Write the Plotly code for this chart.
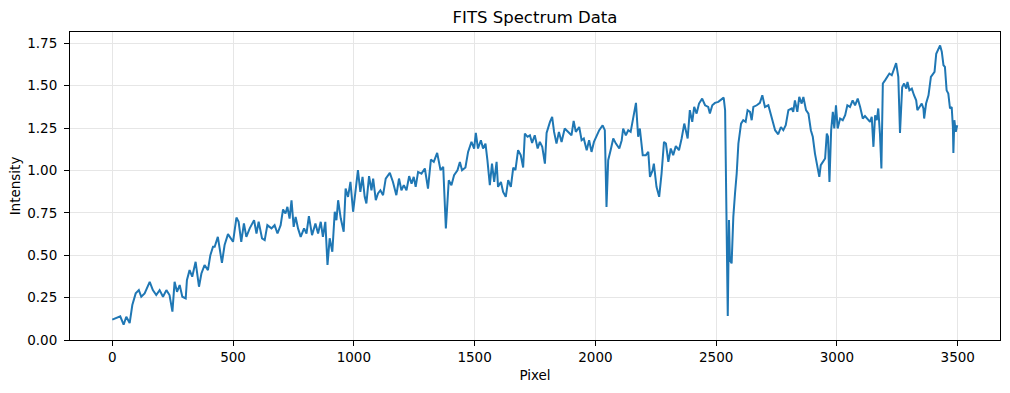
import plotly.graph_objects as go

# Pixel positions and intensities
pixel = [
    0, 17, 33, 47, 58, 72, 83, 97, 110, 120, 134, 155, 168, 182, 196, 210, 224, 237, 249, 258,
    268, 279, 290, 304, 309, 320, 331, 345, 359, 369, 382, 396, 406, 417,
    424, 437, 444, 454, 465, 479, 500, 514, 523, 534, 545, 555, 569, 587, 597, 606, 620, 631, 642, 659,
    672, 684, 697, 707, 717, 725, 734, 742, 751, 759, 769, 780, 794, 804, 814, 827, 841, 852, 863, 872,
    882, 891,
    900, 911, 921, 928, 935, 946, 958, 966, 976, 986, 997, 1007, 1017, 1027, 1036, 1045, 1052, 1063,
    1073, 1080, 1091, 1100, 1110, 1121, 1132, 1149, 1162, 1176, 1187, 1197, 1207, 1218, 1229, 1239,
    1248, 1256, 1266, 1280, 1294, 1307, 1319, 1331, 1345, 1359, 1370, 1381,
    1393, 1404, 1415, 1429, 1439, 1448, 1462, 1473, 1487, 1498, 1505, 1514, 1526, 1535, 1545, 1553,
    1563, 1572, 1581, 1591, 1597, 1609, 1618, 1629, 1639, 1650, 1660, 1669, 1680, 1691, 1701, 1708,
    1719, 1729, 1738, 1749, 1761, 1770, 1780, 1791, 1798, 1812, 1821, 1829, 1839, 1849, 1860,
    1873, 1887, 1901, 1910, 1919, 1933, 1943, 1952, 1964, 1974, 1984, 1994, 2005, 2016, 2030, 2039,
    2046, 2053, 2063, 2074, 2085, 2099, 2109, 2115, 2126, 2136, 2146, 2157, 2168, 2177, 2184, 2196,
    2209, 2219, 2226, 2237, 2242, 2253, 2264, 2274, 2284, 2292, 2302, 2312, 2322, 2333,
    2346, 2357, 2368, 2382, 2391, 2401, 2409, 2419, 2429, 2442, 2454, 2467, 2474, 2484, 2495, 2509,
    2523, 2531, 2537, 2541, 2543, 2548, 2553, 2557, 2564, 2571, 2578, 2585, 2592, 2603, 2612, 2622,
    2630, 2640, 2647, 2654, 2668, 2681, 2691, 2702, 2716, 2730, 2744, 2757, 2768, 2778, 2788, 2799, 2813,
    2819, 2826, 2836, 2844, 2854, 2861, 2872, 2882, 2892, 2900, 2909, 2919, 2927, 2933, 2941, 2951,
    2958, 2963, 2969, 2976, 2983, 2989, 2996, 3003, 3013, 3024, 3034, 3043, 3054, 3065, 3075, 3086,
    3096, 3107, 3116, 3126, 3137, 3144, 3151, 3158, 3165, 3171, 3178, 3184, 3190, 3199, 3209, 3217,
    3227, 3236, 3245, 3254, 3261, 3270,
    3278, 3287, 3292, 3300, 3310, 3319, 3328, 3333, 3341, 3351, 3358, 3361, 3369, 3379, 3389, 3397,
    3404, 3411, 3420, 3427, 3434, 3441, 3447, 3454, 3461, 3468, 3475, 3480, 3482, 3486, 3492, 3498,
]

intensity = [
    0.12, 0.13, 0.14, 0.09, 0.137, 0.10, 0.206, 0.275, 0.294, 0.255, 0.275, 0.343, 0.294, 0.265, 0.294,
    0.255, 0.294, 0.265, 0.167, 0.343, 0.284, 0.324, 0.255, 0.245, 0.353, 0.412, 0.373, 0.461, 0.314,
    0.392, 0.442, 0.412, 0.50, 0.55,
    0.55, 0.608, 0.55, 0.455, 0.56, 0.624, 0.579, 0.722, 0.697, 0.579, 0.687, 0.608, 0.658, 0.707, 0.628,
    0.697, 0.599, 0.589, 0.677, 0.658, 0.677, 0.628, 0.677, 0.77, 0.746, 0.785, 0.716, 0.824, 0.667,
    0.726, 0.658, 0.608, 0.658, 0.628, 0.73, 0.618, 0.687, 0.628, 0.697, 0.608, 0.697, 0.442,
    0.60, 0.52, 0.756, 0.706, 0.824, 0.716, 0.638, 0.893, 0.844, 0.932, 0.756, 0.873, 1.001, 0.873,
    0.962, 0.844, 0.805, 0.966, 0.883, 0.952, 0.824, 0.864, 0.883, 0.854, 0.952, 0.985, 0.932, 0.854,
    0.952, 0.883, 0.913, 0.883, 0.966, 0.922, 0.962, 0.903, 0.991, 0.981, 1.011, 0.893, 1.064, 1.05,
    1.103, 1.001, 1.021, 0.658,
    0.942, 0.913, 0.972, 1.001, 1.05, 1.001, 1.017, 1.109, 1.168, 1.129, 1.221, 1.129, 1.178, 1.129,
    1.158, 1.06, 0.913, 1.04, 0.932, 1.05, 0.903, 0.932, 0.873, 0.844, 0.942, 0.903, 1.017, 1.001,
    1.119, 1.09, 1.017, 1.217, 1.198, 1.207, 1.162, 1.207, 1.129, 1.168, 1.139, 1.04, 1.221, 1.286,
    1.315, 1.227, 1.158, 1.227, 1.168,
    1.247, 1.227, 1.207, 1.292, 1.227, 1.256, 1.178, 1.188, 1.119, 1.178, 1.109, 1.168, 1.207, 1.237,
    1.266, 1.237, 0.785, 1.06, 1.119, 1.188, 1.158, 1.129, 1.178, 1.247, 1.207, 1.237, 1.227, 1.315,
    1.398, 1.198, 1.247, 1.09, 1.09, 1.109, 0.962, 1.001, 1.04, 0.903, 0.844, 0.982, 1.168, 1.158,
    1.05, 1.129, 1.09, 1.143,
    1.119, 1.188, 1.276, 1.188, 1.355, 1.286, 1.374, 1.335, 1.394, 1.423, 1.384, 1.374, 1.335, 1.384,
    1.398, 1.404, 1.423, 1.429, 1.355, 0.864, 0.471, 0.141, 0.707, 0.471, 0.452, 0.726, 0.864, 0.982,
    1.158, 1.276, 1.296, 1.286, 1.355, 1.345, 1.296, 1.374, 1.384, 1.398, 1.443, 1.374, 1.384, 1.315,
    1.237, 1.213, 1.256, 1.237, 1.266, 1.355, 1.365,
    1.345, 1.413, 1.345, 1.433, 1.394, 1.433, 1.355, 1.335, 1.237, 1.198, 1.099, 1.031, 0.962, 1.031,
    1.05, 1.07, 1.217, 1.198, 0.932, 1.237, 1.345, 1.247, 1.384, 1.247, 1.306, 1.296, 1.325, 1.384,
    1.374, 1.413, 1.384, 1.423, 1.374, 1.306, 1.32, 1.306, 1.286, 1.316, 1.139, 1.325, 1.296, 1.365,
    1.217, 1.011, 1.512, 1.531, 1.551, 1.571, 1.561, 1.60, 1.633, 1.551, 1.221, 1.49,
    1.512, 1.482, 1.522, 1.472, 1.482, 1.443, 1.413, 1.355, 1.374, 1.394, 1.365, 1.306, 1.394, 1.443,
    1.551, 1.571, 1.581, 1.688, 1.718, 1.737, 1.70, 1.62, 1.61, 1.472, 1.453, 1.365, 1.374, 1.256,
    1.103, 1.296, 1.227, 1.266,
]

assert len(pixel) == len(intensity)

x_ticks = [0, 500, 1000, 1500, 2000, 2500, 3000, 3500]
y_ticks = [0.0, 0.25, 0.5, 0.75, 1.0, 1.25, 1.5, 1.75]

FONT = "DejaVu Sans"

fig = go.Figure()
fig.add_trace(go.Scatter(
    x=pixel, y=intensity, mode="lines",
    line=dict(color="#1f77b4", width=2),
    hoverinfo="skip",
))

axis_common = dict(
    showline=True, linecolor="black", linewidth=1.1, mirror=True,
    ticks="outside", ticklen=5, tickwidth=1.1, tickcolor="black",
    showgrid=True, gridcolor="#e6e6e6", gridwidth=1,
    zeroline=False,
    tickfont=dict(family=FONT, size=13.5, color="black"),
)

fig.update_layout(
    width=1010, height=393,
    margin=dict(l=70, r=10, t=32, b=53),
    plot_bgcolor="white", paper_bgcolor="white",
    font=dict(family=FONT, color="black"),
    showlegend=False,
    title=dict(
        text="FITS Spectrum Data",
        font=dict(family=FONT, size=16.5, color="black"),
        x=0.5, xref="paper", xanchor="center",
        y=1, yref="paper", yanchor="bottom",
        pad=dict(b=9),
    ),
    xaxis=dict(
        range=[-175, 3675],
        tickvals=x_ticks,
        ticktext=[str(v) for v in x_ticks],
        title=dict(text="Pixel", font=dict(family=FONT, size=13.5, color="black"), standoff=6),
        automargin=False,
        **axis_common,
    ),
    yaxis=dict(
        range=[0, 1.816],
        tickvals=y_ticks,
        ticktext=[f"{v:.2f}" for v in y_ticks],
        ticklabelstandoff=4,
        title=dict(text="Intensity", font=dict(family=FONT, size=13.5, color="black"), standoff=3),
        automargin=False,
        **axis_common,
    ),
)

fig.write_html("out.html", config={"displayModeBar": False})

# Remove the browser's default body margin so the figure sits at the page origin
with open("out.html", "r", encoding="utf-8") as f:
    html = f.read()
html = html.replace("<head>", "<head><style>html,body{margin:0;padding:0;overflow:hidden;}</style>", 1)
with open("out.html", "w", encoding="utf-8") as f:
    f.write(html)
